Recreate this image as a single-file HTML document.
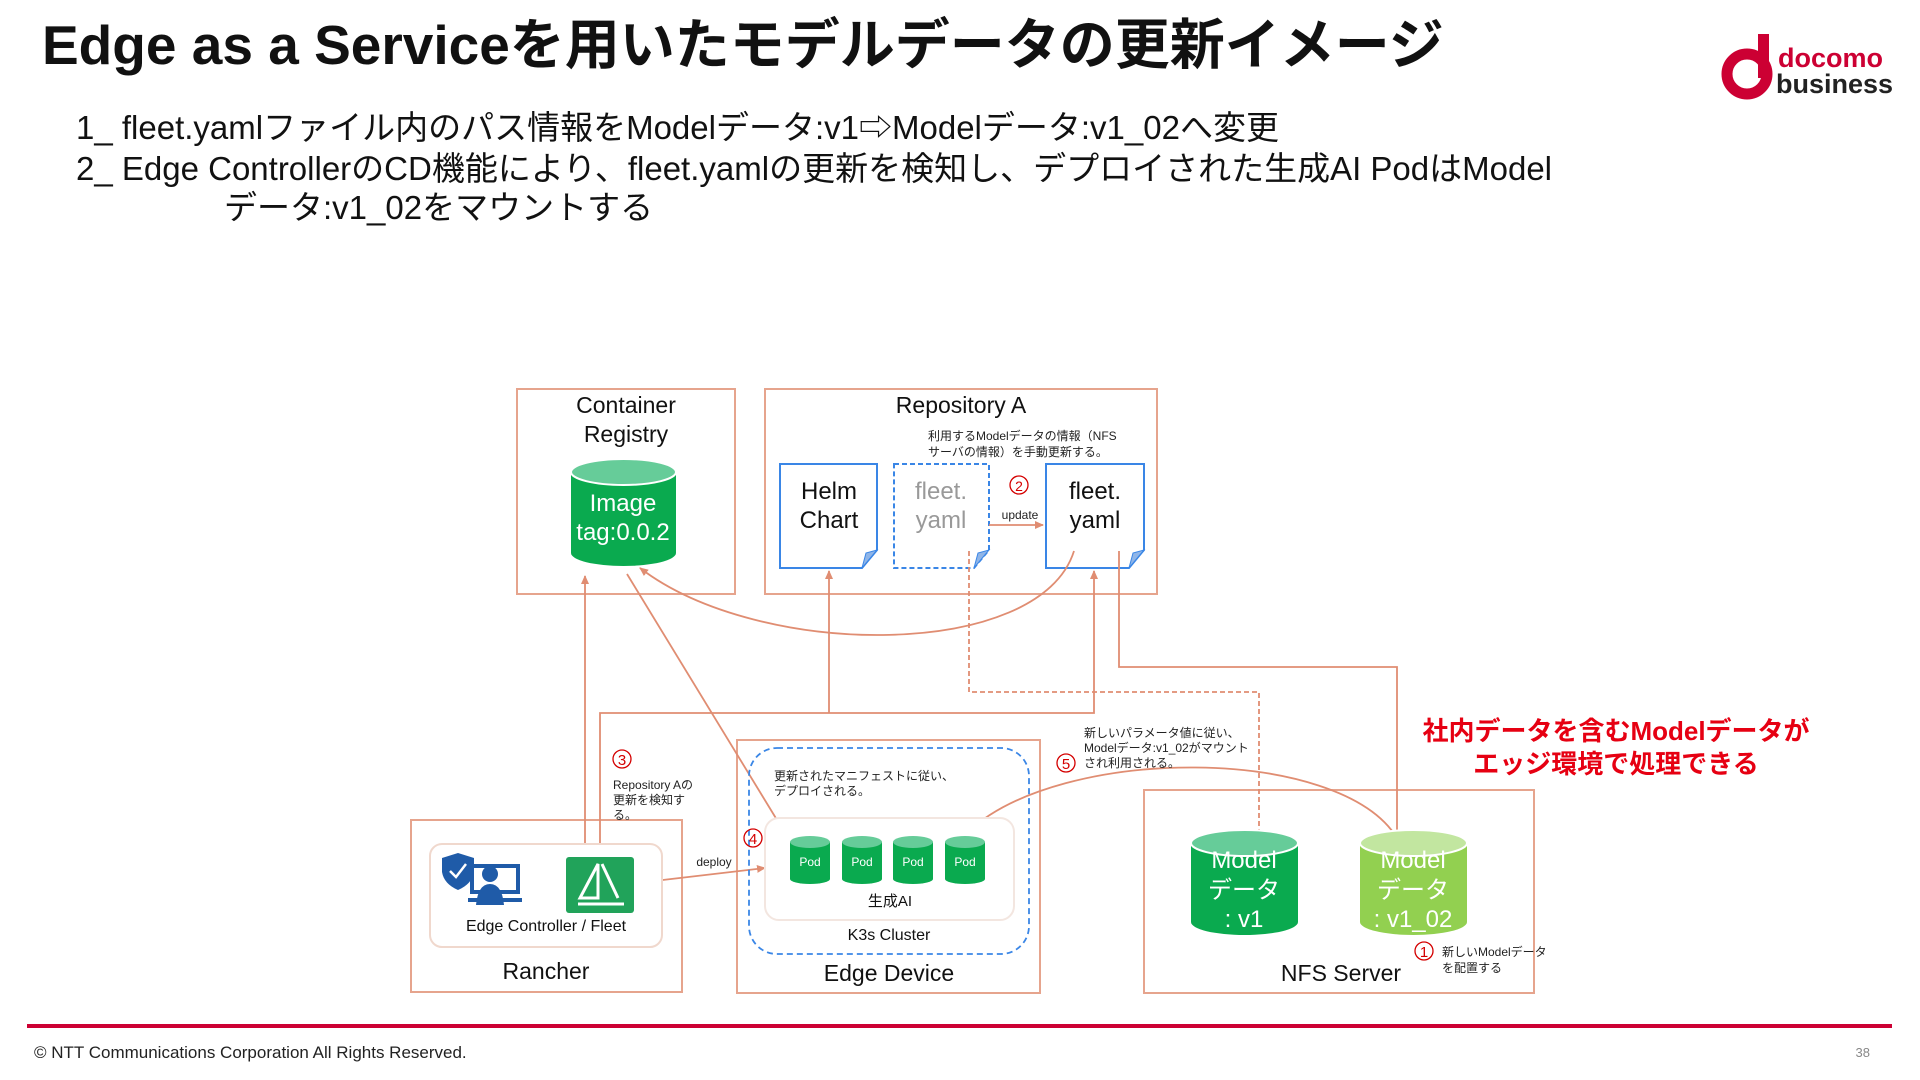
<!DOCTYPE html>
<html><head><meta charset="utf-8"><style>
html,body{margin:0;padding:0;background:#fff;}
body{width:1920px;height:1080px;overflow:hidden;position:relative;font-family:"Liberation Sans","Noto Sans CJK JP",sans-serif;}
svg{position:absolute;left:0;top:0;}
text{font-family:"Liberation Sans","Noto Sans CJK JP",sans-serif;}
</style></head><body>
<svg width="1920" height="1080" viewBox="0 0 1920 1080">
<defs>
<marker id="ah" markerWidth="10" markerHeight="10" refX="8" refY="5" orient="auto" markerUnits="userSpaceOnUse"><path d="M0,1 L9,5 L0,9 Z" fill="#e08d72"/></marker>
</defs>
<text x="42" y="64" font-size="55" font-weight="bold" fill="#111">Edge as a Serviceを用いたモデルデータの更新イメージ</text>
<g>
<circle cx="1747" cy="74" r="20" fill="none" stroke="#cc0033" stroke-width="11"/>
<rect x="1758" y="34" width="11" height="44" fill="#cc0033"/>
<text x="1778" y="67" font-size="27" font-weight="bold" fill="#cc0033">docomo</text>
<text x="1776" y="93" font-size="27" font-weight="bold" fill="#222">business</text>
</g>
<g font-size="33" fill="#111">
<text x="76" y="139">1_ fleet.yamlファイル内のパス情報をModelデータ:v1⇨Modelデータ:v1_02へ変更</text>
<text x="76" y="180">2_ Edge ControllerのCD機能により、fleet.yamlの更新を検知し、デプロイされた生成AI PodはModel</text>
<text x="224" y="219">データ:v1_02をマウントする</text>
</g>
<g fill="none" stroke="#e6a48d" stroke-width="2">
<rect x="517" y="389" width="218" height="205"/>
<rect x="765" y="389" width="392" height="205"/>
<rect x="411" y="820" width="271" height="172"/>
<rect x="737" y="740" width="303" height="253"/>
<rect x="1144" y="790" width="390" height="203"/>
</g>
<g font-size="23" fill="#111" text-anchor="middle">
<text x="626" y="413">Container</text>
<text x="626" y="442">Registry</text>
<text x="961" y="413">Repository A</text>
<text x="546" y="979">Rancher</text>
<text x="889" y="981">Edge Device</text>
<text x="1341" y="981">NFS Server</text>
</g>
<path d="M571,472 L571,553 A52.5,13 0 0 0 676,553 L676,472 Z" fill="#0aaa4f"/>
<ellipse cx="623.5" cy="472" rx="52.5" ry="13" fill="#66cc99" stroke="#fff" stroke-width="2"/>
<text x="623" y="511" font-size="24" fill="#fff" text-anchor="middle">Image</text>
<text x="623" y="540" font-size="24" fill="#fff" text-anchor="middle">tag:0.0.2</text>
<g stroke="#3a86e6" stroke-width="2" fill="#fff">
<path d="M780,464 L877,464 L877,550 L862,568 L780,568 Z"/>
<path d="M894,464 L989,464 L989,550 L974,568 L894,568 Z" stroke-dasharray="5,3"/>
<path d="M1046,464 L1144,464 L1144,550 L1129,568 L1046,568 Z"/>
</g>
<g fill="#8fb5e8" stroke="#3a86e6" stroke-width="1">
<path d="M862,568 L866,553 L877,550 Z"/><path d="M974,568 L978,553 L989,550 Z"/><path d="M1129,568 L1133,553 L1144,550 Z"/>
</g>
<g font-size="24" text-anchor="middle">
<text x="829" y="499" fill="#111">Helm</text><text x="829" y="528" fill="#111">Chart</text>
<text x="941" y="499" fill="#999">fleet.</text><text x="941" y="528" fill="#999">yaml</text>
<text x="1095" y="499" fill="#111">fleet.</text><text x="1095" y="528" fill="#111">yaml</text>
</g>
<g font-size="12" fill="#222">
<text x="928" y="440">利用するModelデータの情報（NFS</text>
<text x="928" y="456">サーバの情報）を手動更新する。</text>
</g>
<circle cx="1019" cy="485" r="9" fill="none" stroke="#d40000" stroke-width="1.3"/><text x="1019" y="491" font-size="14" fill="#d40000" text-anchor="middle">2</text>
<text x="1020" y="519" font-size="12" fill="#222" text-anchor="middle">update</text>
<g fill="none" stroke="#e08d72" stroke-width="1.8">
<line x1="989" y1="525" x2="1043" y2="525" marker-end="url(#ah)"/>
<line x1="585" y1="857" x2="585" y2="576" marker-end="url(#ah)"/>
<polyline points="600,857 600,713 1094,713 1094,571" marker-end="url(#ah)"/>
<line x1="829" y1="713" x2="829" y2="571" marker-end="url(#ah)"/>
<line x1="627" y1="574" x2="788" y2="838" marker-end="url(#ah)"/>
<path d="M1074,551 C1040,660 760,660 640,568" marker-end="url(#ah)"/>
<polyline points="1119,551 1119,667 1397,667 1397,843" marker-end="url(#ah)"/>
<polyline points="969,551 969,692 1259,692 1259,843" stroke-dasharray="5,3" marker-end="url(#ah)"/>
<path d="M1397,838 C1340,745 1060,745 968,832" marker-end="url(#ah)"/>
<line x1="637" y1="883" x2="765" y2="868" marker-end="url(#ah)"/>
</g>
<rect x="430" y="844" width="232" height="103" rx="12" fill="#fff" stroke="#f0d8cd" stroke-width="2"/>
<g>
<path d="M442,858 L458,853 L474,858 L474,872 Q472,884 458,890 Q444,884 442,872 Z" fill="#1f5ba8"/>
<path d="M450,871 L456,877 L466,864" stroke="#fff" stroke-width="2.5" fill="none"/>
<rect x="470" y="864" width="50" height="30" fill="#1f5ba8"/>
<rect x="474" y="868" width="42" height="22" fill="#fff"/>
<circle cx="490" cy="874" r="8" fill="#1f5ba8"/>
<path d="M476,905 Q478,884 490,884 Q502,884 504,905 Z" fill="#1f5ba8"/>
<rect x="468" y="898" width="54" height="4" fill="#1f5ba8"/>
</g>
<rect x="566" y="857" width="68" height="56" rx="3" fill="#21a35a"/>
<g stroke="#fff" stroke-width="3" fill="none">
<path d="M598,864 L580,898 L598,898 Z"/><path d="M602,864 L618,898"/><path d="M578,904 L624,904"/>
</g>
<text x="546" y="931" font-size="16" fill="#111" text-anchor="middle">Edge Controller / Fleet</text>
<rect x="749" y="748" width="280" height="206" rx="28" fill="none" stroke="#3a86e6" stroke-width="1.8" stroke-dasharray="6,4"/>
<rect x="765" y="818" width="249" height="102" rx="14" fill="#fff" stroke="#f3e6e0" stroke-width="2"/>
<g>
<path d="M790,842 L790,879 A20,5 0 0 0 830,879 L830,842 Z" fill="#0aaa4f"/><ellipse cx="810" cy="842" rx="20" ry="6" fill="#66cc99"/>
<path d="M842,842 L842,879 A20,5 0 0 0 882,879 L882,842 Z" fill="#0aaa4f"/><ellipse cx="862" cy="842" rx="20" ry="6" fill="#66cc99"/>
<path d="M893,842 L893,879 A20,5 0 0 0 933,879 L933,842 Z" fill="#0aaa4f"/><ellipse cx="913" cy="842" rx="20" ry="6" fill="#66cc99"/>
<path d="M945,842 L945,879 A20,5 0 0 0 985,879 L985,842 Z" fill="#0aaa4f"/><ellipse cx="965" cy="842" rx="20" ry="6" fill="#66cc99"/>
</g>
<g font-size="12" fill="#fff" text-anchor="middle">
<text x="810" y="866">Pod</text><text x="862" y="866">Pod</text><text x="913" y="866">Pod</text><text x="965" y="866">Pod</text>
</g>
<text x="890" y="906" font-size="15" fill="#111" text-anchor="middle">生成AI</text>
<text x="889" y="940" font-size="16" fill="#111" text-anchor="middle">K3s Cluster</text>
<text x="714" y="866" font-size="12" fill="#222" text-anchor="middle">deploy</text>
<path d="M1191,843 L1191,922 A53.5,13 0 0 0 1298,922 L1298,843 Z" fill="#0aaa4f"/>
<ellipse cx="1244.5" cy="843" rx="53.5" ry="13" fill="#66cc99" stroke="#fff" stroke-width="2"/>
<path d="M1360,843 L1360,922 A53.5,13 0 0 0 1467,922 L1467,843 Z" fill="#92d050"/>
<ellipse cx="1413.5" cy="843" rx="53.5" ry="13" fill="#c2e6a0" stroke="#fff" stroke-width="2"/>
<g font-size="24" fill="#fff" text-anchor="middle">
<text x="1244" y="868">Model</text><text x="1244" y="898">データ</text><text x="1244" y="927">: v1</text>
<text x="1413" y="868">Model</text><text x="1413" y="898">データ</text><text x="1413" y="927">: v1_02</text>
</g>
<g fill="#d40000" font-size="15" text-anchor="middle">
<circle cx="622" cy="759" r="9" fill="none" stroke="#d40000" stroke-width="1.3"/><text x="622" y="765">3</text>
<circle cx="753" cy="838" r="9" fill="none" stroke="#d40000" stroke-width="1.3"/><text x="753" y="844">4</text>
<circle cx="1066" cy="763" r="9" fill="none" stroke="#d40000" stroke-width="1.3"/><text x="1066" y="769">5</text>
<circle cx="1424" cy="951" r="9" fill="none" stroke="#d40000" stroke-width="1.3"/><text x="1424" y="957">1</text>
</g>
<g font-size="12" fill="#222">
<text x="613" y="789">Repository Aの</text><text x="613" y="804">更新を検知す</text><text x="613" y="819">る。</text>
<text x="774" y="780">更新されたマニフェストに従い、</text><text x="774" y="795">デプロイされる。</text>
<text x="1084" y="737">新しいパラメータ値に従い、</text><text x="1084" y="752">Modelデータ:v1_02がマウント</text><text x="1084" y="767">され利用される。</text>
<text x="1442" y="956">新しいModelデータ</text><text x="1442" y="972">を配置する</text>
</g>
<g font-size="26" font-weight="bold" fill="#e60012" text-anchor="middle">
<text x="1616" y="740">社内データを含むModelデータが</text>
<text x="1616" y="773">エッジ環境で処理できる</text>
</g>
<rect x="27" y="1024" width="1865" height="4" fill="#cc0033"/>
<text x="34" y="1058" font-size="17" fill="#222">© NTT Communications Corporation All Rights Reserved.</text>
<text x="1870" y="1057" font-size="13" fill="#888" text-anchor="end">38</text>
</svg>
</body></html>
